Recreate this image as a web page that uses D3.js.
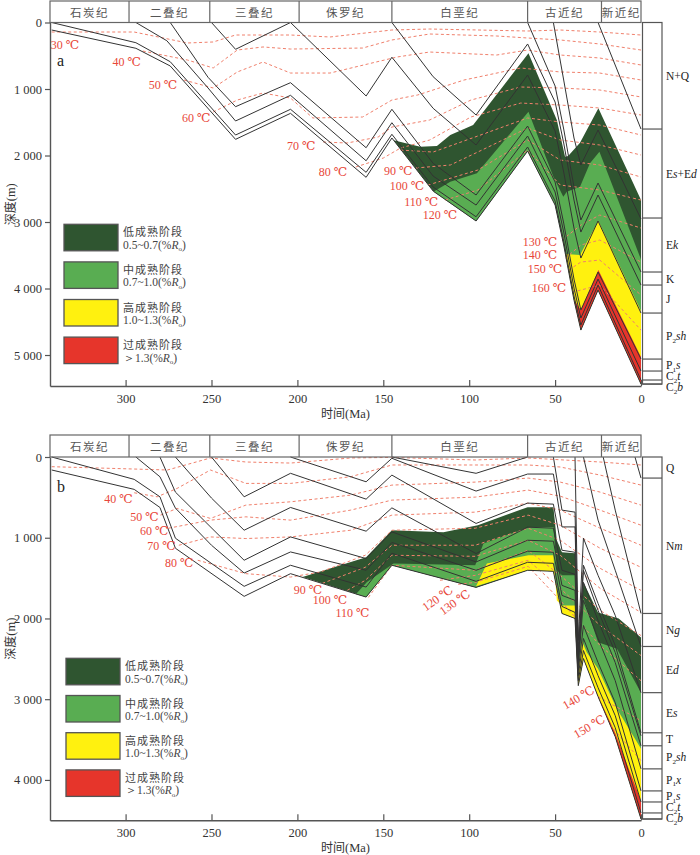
<!DOCTYPE html>
<html lang="zh">
<head>
<meta charset="utf-8">
<title>埋藏史与热演化史</title>
<script src="https://d3js.org/d3.v7.min.js"></script>
<style>
  body { margin: 0; background: #fff; }
  svg { display: block; }
  .num { font-family: "Liberation Serif", "DejaVu Serif", serif; }
  .cjk { font-family: "Noto Sans CJK SC", sans-serif; }
</style>
</head>
<body>
<script>

// ---------- shared data ----------
var periods = ["石炭纪", "二叠纪", "三叠纪", "侏罗纪", "白垩纪", "古近纪", "新近纪"];
var periodBounds = [344, 298, 251, 199, 145, 66, 23, 0];
var timeTicks = [300, 250, 200, 150, 100, 50, 0];
var zoneNames = ["低成熟阶段", "中成熟阶段", "高成熟阶段", "过成熟阶段"];
var zoneRanges = ["0.5~0.7", "0.7~1.0", "1.0~1.3", "＞1.3"];
var zoneColors = ["#2f5530", "#59ad52", "#fff10f", "#e6352b"];

// ---------- panel a : horizons [Ma, depth m] ----------
var aNQ   = [[25,0],[0,1602]];
var aEsEd = [[51,0],[45,865],[39,1737],[35,2143],[25,1617],[0,2955]];
var aEk   = [[66,0],[50,955],[45,1602],[39,2474],[35,2970],[25,2414],[0,3752]];
var aK    = [[145,0],[121,815],[96,1391],[66,323],[50,1196],[45,1812],[39,2670],[35,3151],[25,2594],[0,3948]];
var aJ    = [[250,0],[236,403],[204,0],[160,1105],[145,523],[121,1290],[96,1842],[66,790],[50,1632],[45,2248],[39,3091],[35,3542],[25,2985],[0,4369]];
var aP2sh = [[274,0],[252,824],[236,1266],[204,905],[160,1883],[145,1305],[121,2118],[96,2594],[66,1557],[50,2399],[45,3016],[39,3858],[35,4324],[25,3752],[0,5061]];
var aP1s  = [[294,0],[276,274],[252,985],[236,1481],[204,1095],[160,2079],[145,1507],[121,2309],[96,2745],[66,1707],[50,2549],[45,3151],[39,3993],[35,4444],[25,3858],[0,5241]];
var aC2t  = [[343,0],[294,304],[274,590],[236,1692],[204,1305],[160,2253],[145,1681],[121,2474],[96,2921],[66,1872],[50,2685],[45,3286],[39,4113],[35,4550],[25,3948],[0,5377]];
var aC2b  = [[343,113],[294,388],[274,654],[236,1757],[204,1366],[160,2328],[145,1737],[121,2534],[96,2985],[66,1933],[50,2745],[45,3346],[39,4174],[35,4625],[25,4023],[0,5437]];

// panel a : maturity zone tops (Ro 0.5, 0.7, 1.0, 1.3)
var aRo05 = [[144,1770],[128.5,1868],[118.8,1857],[111,1692],[97.7,1542],[65.5,463],[49,1466],[44.2,2018],[42.4,2008],[35.5,1808],[24.8,1290],[0,2670]];
var aRo07 = [[120.8,2545],[111,2394],[95.5,2268],[65.5,1342],[51,2319],[45.2,2620],[43.2,2545],[35.5,2470],[29.7,2118],[24.2,1943],[0,3564]];
var aRo10 = [[44,3480],[35.5,3497],[24.8,2981],[0,4339]];
var aRo13 = [[39,4174],[35,4324],[24.8,3722],[0,5031]];

// panel a : isotherms
var aTemps = [30, 40, 50, 60, 70, 80, 90, 100, 110, 120, 130, 140, 150, 160];
var aIso = [
  [[343,143],[295,143],[264,308],[249,293],[236,188],[204,188],[181,218],[145,113],[123,98],[66,128],[47,113],[24,143],[0,188]],
  [[290,429],[264,564],[249,684],[235,414],[220,368],[204,399],[162,384],[145,263],[123,173],[84,203],[66,233],[47,263],[24,323],[0,414]],
  [[266,865],[249,985],[235,744],[220,594],[204,760],[181,760],[159,624],[142,519],[123,444],[84,489],[66,414],[47,489],[24,534],[0,639]],
  [[249,1346],[235,1166],[220,1060],[204,1136],[191,1436],[162,1421],[145,1166],[130,1090],[103,865],[70,684],[47,744],[24,760],[0,865]],
  [[185,1797],[171,1812],[153,1722],[145,1572],[123,1466],[99,1166],[70,970],[47,985],[24,1015],[0,1120]],
  [[166,2173],[150,2038],[140,1888],[123,1767],[99,1421],[70,1211],[47,1241],[24,1286],[0,1391]],
  [[140,1918],[121,1948],[95,1707],[66,1436],[47,1496],[24,1542],[0,1692]],
  [[131,2188],[111,2143],[95,1948],[66,1587],[47,1767],[24,1842],[0,1993]],
  [[124,2444],[95,2218],[66,1767],[47,2068],[24,2143],[0,2324]],
  [[114,2670],[95,2519],[66,1918],[47,2444],[24,2519],[0,2670]],
  [[46,3271],[35,3046],[24,2895],[0,3091]],
  [[44,3542],[35,3346],[24,3271],[0,3602]],
  [[42,3722],[35,3602],[24,3572],[0,4098]],
  [[40,4053],[35,4023],[24,3948],[0,4625]]
];
var aIsoLabelPos = [[327,399],[291,654],[270,1000],[250.6,1496],[189.5,1918],[171,2309],[133.1,2294],[126.2,2519],[118,2760],[107,2955],[48.8,3361],[48.8,3557],[45.9,3768],[43.6,4053]];

var aStrata = ["N+Q", "E{s}+E{d}", "E{k}", "K", "J", "P_2{sh}", "P_1{s}", "C_2{t}", "C_2{b}"];
var aStrataBase = [1602, 2940, 3752, 3948, 4369, 5061, 5241, 5376, 5437];
var aDepthTicks = [0, 1000, 2000, 3000, 4000, 5000];

// ---------- panel b : horizons ----------
var bQ    = [[3.5,0],[0,261]];
var bNm   = [[22,0],[15,658],[0,1938]];
var bNg   = [[33.5,0],[25,782],[15,1403],[0,2347]];
var bEd   = [[38.4,0],[36.5,2273],[33.5,1006],[25,1466],[15,1962],[0,2919]];
var bEs   = [[51,0],[46,658],[38.4,683],[36.5,2397],[33.5,1341],[25,1813],[15,2335],[0,3416]];
var bK    = [[145,0],[96,202],[66,0]];
var bJ    = [[204,0],[160,307],[145,16],[96,422],[66,211],[51,211],[46,866],[38.4,866],[36.5,2459],[33.5,1403],[25,1900],[15,2422],[0,3453]];
var bT    = [[250,0],[231,493],[204,202],[160,522],[145,224],[96,823],[66,571],[51,584],[46,1155],[38.4,1180],[36.5,2521],[33.5,1553],[25,2024],[15,2546],[0,3577]];
var bP2sh = [[271,0],[250,509],[231,907],[204,625],[160,919],[145,630],[96,1196],[66,869],[51,882],[46,1403],[38.4,1453],[36.5,2583],[33.5,1776],[25,2248],[15,2770],[0,3863]];
var bP1x  = [[280,0],[271,435],[231,1279],[204,990],[160,1258],[145,928],[96,1300],[66,1031],[51,1043],[46,1590],[38.4,1652],[36.5,2645],[33.5,2087],[25,2546],[15,3043],[0,4136]];
var bP1s  = [[294,0],[280,245],[271,633],[250,1093],[231,1437],[204,1176],[160,1403],[145,1059],[96,1403],[66,1167],[51,1180],[46,1714],[38.4,1776],[36.5,2708],[33.5,2248],[25,2708],[15,3204],[0,4273]];
var bC2t  = [[343,0],[295,277],[280,493],[271,1006],[231,1602],[204,1341],[160,1611],[145,1192],[96,1540],[66,1304],[51,1317],[46,1851],[38.4,1925],[36.5,2770],[33.5,2397],[25,2857],[15,3353],[0,4409]];
var bC2b  = [[343,161],[295,401],[280,625],[271,1130],[231,1726],[204,1445],[160,1735],[145,1341],[96,1615],[66,1403],[51,1416],[46,1938],[38.4,2000],[36.5,2832],[33.5,2496],[25,2968],[15,3465],[0,4484]];

var bRo05 = [[197,1487],[160,1242],[145,907],[115,932],[95,845],[66,621],[51,621],[49,1031],[46,1180],[38.4,1192],[36.5,2397],[33.5,1553],[25,1925],[13,2000],[0,2236]];
var bRo07 = [[166,1700],[159.5,1549],[144,1320],[96.5,1341],[91.7,1072],[64.5,866],[51,866],[49,1403],[46,1466],[38.4,1466],[36.5,2583],[33.5,1751],[25,2294],[14,2376],[0,2919]];
var bRo10 = [[96,1600],[89.7,1320],[65.5,1217],[51,1217],[49,1776],[46,1838],[38.4,1838],[36.5,2645],[34.5,2273],[31.6,2418],[25,2624],[14,3121],[0,3614]];
var bRo13 = [[26,2912],[15,3420],[0,4260]];

var bTemps = [30, 40, 50, 60, 70, 80, 90, 100, 110, 120, 130, 140, 150];
var bIso = [
  [[343,120],[295,149],[275.6,161],[250.6,12],[230,62],[204,75],[169,12],[145,5],[96.5,37],[65.7,12],[23.8,62],[0,99]],
  [[295,443],[281.6,493],[270,389],[250.6,161],[230,327],[204,327],[169,245],[145,99],[96.5,99],[65.7,99],[47,124],[23.8,224],[0,348]],
  [[279.7,720],[270,637],[250.6,761],[230,596],[204,555],[169,472],[145,348],[96.5,311],[65.7,261],[47,311],[23.8,435],[0,596]],
  [[275,882],[250.6,782],[230,741],[204,782],[169,658],[145,534],[96.5,497],[65.7,410],[47,485],[23.8,658],[0,845]],
  [[269,1093],[250.6,990],[230,1010],[204,990],[169,907],[145,720],[96.5,683],[65.7,571],[47,658],[23.8,882],[0,1093]],
  [[258,1279],[230,1445],[204,1487],[186.6,1424],[160.5,1217],[145,907],[96.5,882],[65.7,720],[47,845],[23.8,1130],[0,1366]],
  [[185.5,1565],[160.5,1366],[145,1093],[96.5,1093],[65.7,882],[47,1031],[23.8,1379],[0,1652]],
  [[171,1652],[160.5,1528],[145,1217],[96.5,1230],[65.7,1031],[47,1217],[23.8,1627],[0,1925]],
  [[158.7,1739],[145,1341],[96.5,1403],[65.7,1155],[47,1466],[23.8,1900],[0,2211]],
  [[117,1527],[96.5,1466],[65.7,1279],[47,1627],[23.8,2087],[0,2459]],
  [[106.4,1577],[96.5,1553],[65.7,1354],[47,1776],[23.8,2335],[0,2770]],
  [[25,2968],[0,3266]],
  [[18,3316],[0,3763]]
];
var bIsoLabelPos = [null,[295.9,571],[280.8,795],[275,969],[270.9,1155],[260.5,1366],[185.6,1702],[171,1826],[158,1985],[118,1764],[108,1813],[36,2993],[29.7,3353]];
var bIsoLabelRot = [0,0,0,0,0,0,0,0,0,-35,-35,-30,-30];

var bStrata = ["Q", "N{m}", "N{g}", "E{d}", "E{s}", "T", "P_2{sh}", "P_1{x}", "P_1{s}", "C_2{t}", "C_2{b}"];
var bStrataBase = [261, 1938, 2347, 2919, 3416, 3577, 3863, 4136, 4273, 4409, 4484];
var bDepthTicks = [0, 1000, 2000, 3000, 4000];

// ---------- drawing ----------
var svg = d3.select("body").append("svg")
    .attr("width", 700)
    .attr("height", 855);

var panels = [
  {letter: "a", headerTop: 1, plotTop: 22.5, plotBottom: 386, maxDepth: 5466,
   horizons: [aNQ, aEsEd, aEk, aK, aJ, aP2sh, aP1s, aC2t, aC2b],
   zones: [aRo05, aRo07, aRo10, aRo13], temps: aTemps, iso: aIso,
   labelPos: aIsoLabelPos, labelRot: null,
   strata: aStrata, strataBase: aStrataBase, depthTicks: aDepthTicks,
   letterY: 66, legendTop: 224.3, legendStep: 37.6, legendX: 64},
  {letter: "b", headerTop: 435, plotTop: 457, plotBottom: 820.3, maxDepth: 4500,
   horizons: [bQ, bNm, bNg, bEd, bEs, bK, bJ, bT, bP2sh, bP1x, bP1s, bC2t, bC2b],
   zones: [bRo05, bRo07, bRo10, bRo13], temps: bTemps, iso: bIso,
   labelPos: bIsoLabelPos, labelRot: bIsoLabelRot,
   strata: bStrata, strataBase: bStrataBase, depthTicks: bDepthTicks,
   letterY: 492, legendTop: 658.3, legendStep: 37.2, legendX: 66}
];

// rich text: {..} italic, _n subscript
function richText(sel, str, baseSize) {
  var re = /(_\d)|\{([^}]+)\}|([^_{]+)/g, m, lowered = false;
  while ((m = re.exec(str)) !== null) {
    var t = sel.append("tspan");
    if (m[1]) {
      t.text(m[1].slice(1)).attr("font-size", baseSize * 0.62).attr("dy", 2.5);
      lowered = true;
    } else {
      t.text(m[2] || m[3]);
      if (m[2]) t.attr("font-style", "italic");
      if (lowered) { t.attr("dy", -2.5); lowered = false; }
    }
  }
}

panels.forEach(function(p) {
  var x = d3.scaleLinear().domain([344, 0]).range([50, 641]);
  var y = d3.scaleLinear().domain([0, p.maxDepth]).range([p.plotTop, p.plotBottom]);
  var line = d3.line().x(d => x(d[0])).y(d => y(d[1]));
  var g = svg.append("g");
  var base = p.horizons[p.horizons.length - 1];

  // maturity zones
  p.zones.forEach(function(top, i) {
    var t0 = top[0][0];
    var back = base.filter(d => d[0] < t0).slice().reverse();
    g.append("path")
      .attr("d", line(top.concat(back)) + "Z")
      .attr("fill", zoneColors[i])
      .attr("stroke", "none");
  });

  // isotherms
  g.selectAll(".iso-" + p.letter)
    .data(p.iso)
    .join("path")
    .attr("d", line)
    .attr("fill", "none")
    .attr("stroke", "#f0806c")
    .attr("stroke-width", 1)
    .attr("stroke-dasharray", "3,2.5");

  // horizons
  g.selectAll(".hz-" + p.letter)
    .data(p.horizons)
    .join("path")
    .attr("d", line)
    .attr("fill", "none")
    .attr("stroke", "#333")
    .attr("stroke-width", 1);

  // isotherm labels
  p.temps.forEach(function(t, i) {
    var pos = p.labelPos[i];
    if (!pos) return;
    var rot = p.labelRot ? p.labelRot[i] : 0;
    var txt = g.append("text")
      .attr("class", "num")
      .attr("font-size", 12)
      .attr("fill", "#e8473a")
      .text(t + " ℃");
    if (rot) {
      txt.attr("text-anchor", "middle")
        .attr("dominant-baseline", "middle")
        .attr("transform", "translate(" + x(pos[0]) + "," + y(pos[1]) + ") rotate(" + rot + ")");
    } else {
      txt.attr("text-anchor", "end")
        .attr("x", x(pos[0]))
        .attr("y", y(pos[1]));
    }
  });

  // header with periods
  g.append("rect")
    .attr("x", x(344)).attr("y", p.headerTop)
    .attr("width", x(0) - x(344)).attr("height", p.plotTop - p.headerTop)
    .attr("fill", "none").attr("stroke", "#666").attr("stroke-width", 1.2);
  periods.forEach(function(name, i) {
    var x0 = x(periodBounds[i]), x1 = x(periodBounds[i + 1]);
    if (i > 0) {
      g.append("line").attr("x1", x0).attr("x2", x0)
        .attr("y1", p.headerTop).attr("y2", p.plotTop)
        .attr("stroke", "#666").attr("stroke-width", 1.2);
    }
    g.append("text")
      .attr("class", "cjk")
      .attr("x", (x0 + x1) / 2)
      .attr("y", (p.headerTop + p.plotTop) / 2)
      .attr("text-anchor", "middle")
      .attr("dominant-baseline", "central")
      .attr("font-size", 11.5)
      .attr("letter-spacing", 1.5)
      .attr("fill", "#555")
      .text(name);
  });

  // axes
  var yAxis = d3.axisLeft(y).tickValues(p.depthTicks).tickSizeInner(5).tickSizeOuter(0).tickPadding(3)
      .tickFormat(d => d3.format(",")(d).replace(",", " "));
  var ya = g.append("g").attr("transform", "translate(50,0)").call(yAxis);
  var xAxis = d3.axisBottom(x).tickValues(timeTicks).tickSizeInner(-6).tickSizeOuter(0).tickPadding(8);
  var xa = g.append("g").attr("transform", "translate(0," + p.plotBottom + ")").call(xAxis);
  [ya, xa].forEach(function(a) {
    a.select(".domain").attr("stroke", "#555").attr("stroke-width", 1.4);
    a.selectAll(".tick line").attr("stroke", "#555").attr("stroke-width", 1.2);
    a.selectAll(".tick text").attr("class", "num").attr("font-size", 12.5).attr("fill", "#333");
  });

  g.append("text")
    .attr("x", (x(344) + x(0)) / 2)
    .attr("y", p.plotBottom + 32)
    .attr("text-anchor", "middle")
    .attr("font-size", 12)
    .attr("fill", "#333")
    .call(function(t) {
      t.append("tspan").attr("class", "cjk").text("时间");
      t.append("tspan").attr("class", "num").attr("font-size", 12.5).text("(Ma)");
    });

  g.append("text")
    .attr("transform", "translate(15," + ((p.plotTop + p.plotBottom) / 2) + ") rotate(-90)")
    .attr("text-anchor", "middle")
    .attr("font-size", 12)
    .attr("fill", "#333")
    .call(function(t) {
      t.append("tspan").attr("class", "cjk").text("深度");
      t.append("tspan").attr("class", "num").attr("font-size", 12.5).text("(m)");
    });

  // panel letter
  g.append("text")
    .attr("class", "num")
    .attr("x", 57).attr("y", p.letterY)
    .attr("font-size", 16)
    .attr("fill", "#222")
    .text(p.letter);

  // stratigraphic column
  var cx0 = 642.5, cx1 = 662;
  var colBottom = y(p.strataBase[p.strataBase.length - 1]);
  g.append("rect")
    .attr("x", cx0).attr("y", p.plotTop)
    .attr("width", cx1 - cx0).attr("height", colBottom - p.plotTop)
    .attr("fill", "#fff").attr("stroke", "#555").attr("stroke-width", 1.2);
  var prevY = -Infinity;
  p.strata.forEach(function(s, i) {
    var top = i === 0 ? 0 : p.strataBase[i - 1];
    var yb = y(p.strataBase[i]);
    g.append("line").attr("x1", cx0).attr("x2", cx1).attr("y1", yb).attr("y2", yb)
      .attr("stroke", "#555").attr("stroke-width", 1.2);
    var ly = Math.max((y(top) + yb) / 2 + 4, prevY + 11);
    prevY = ly;
    var t = g.append("text")
      .attr("class", "num")
      .attr("x", 666)
      .attr("y", ly)
      .attr("font-size", 11.5)
      .attr("fill", "#222");
    richText(t, s, 11.5);
  });

  // legend
  zoneNames.forEach(function(name, i) {
    var ly = p.legendTop + i * p.legendStep;
    g.append("rect")
      .attr("x", p.legendX).attr("y", ly)
      .attr("width", 54).attr("height", 26.5)
      .attr("fill", zoneColors[i])
      .attr("stroke", "#555").attr("stroke-width", 1.3);
    g.append("text")
      .attr("class", "cjk")
      .attr("x", p.legendX + 59).attr("y", ly + 12)
      .attr("font-size", 11)
      .attr("letter-spacing", 1)
      .attr("fill", "#444")
      .text(name);
    var t = g.append("text")
      .attr("class", "num")
      .attr("x", p.legendX + 59).attr("y", ly + 24.5)
      .attr("font-size", 11.5)
      .attr("fill", "#444");
    t.append("tspan").text(zoneRanges[i] + "(%");
    t.append("tspan").attr("font-style", "italic").text("R");
    t.append("tspan").attr("font-size", 7).attr("dy", 2.5).text("o");
    t.append("tspan").attr("dy", -2.5).text(")");
  });
});

</script>
</body>
</html>
